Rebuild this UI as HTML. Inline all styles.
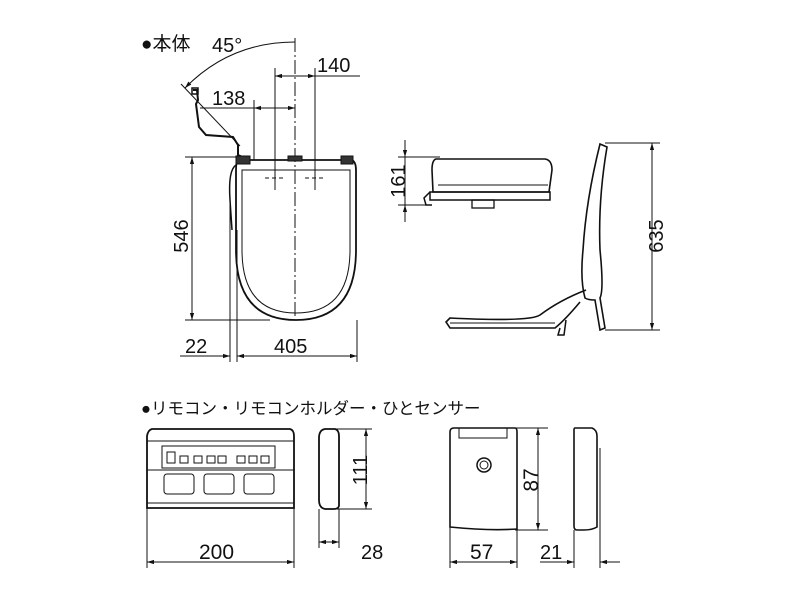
<!DOCTYPE html>
<html><head><meta charset="utf-8"><style>
html,body{margin:0;padding:0;background:#fff;}
svg{display:block;}
text{font-family:"Liberation Sans","Noto Sans CJK JP",sans-serif;fill:#111;}
</style></head><body>
<svg width="800" height="600" viewBox="0 0 800 600" xmlns="http://www.w3.org/2000/svg">
<defs>
<marker id="a" viewBox="0 0 10 10" refX="10" refY="5" markerWidth="7" markerHeight="7" orient="auto-start-reverse"><path d="M0,2 L10,5 L0,8 z" fill="#111"/></marker>
</defs>
<text x="141" y="50" font-size="19">●本体</text>
<text x="212" y="52" font-size="20">45°</text>
<text x="317" y="72" font-size="20">140</text>
<text x="212" y="105" font-size="20">138</text>
<text transform="translate(188,236) rotate(-90)" font-size="20" text-anchor="middle">546</text>
<text x="185" y="353" font-size="20">22</text>
<text x="274" y="353" font-size="20">405</text>
<text transform="translate(405,181) rotate(-90)" font-size="20" text-anchor="middle">161</text>
<text transform="translate(663,236) rotate(-90)" font-size="20" text-anchor="middle">635</text>

<g stroke="#111" fill="none" stroke-width="1">
<line x1="295" y1="38" x2="295" y2="318" stroke-dasharray="14,3,2,3"/>
<line x1="275" y1="68" x2="275" y2="190"/>
<line x1="315" y1="68" x2="315" y2="190"/>
<line x1="275" y1="76" x2="315" y2="76" marker-start="url(#a)" marker-end="url(#a)"/>
<line x1="315" y1="76" x2="360" y2="76"/>
<line x1="254" y1="100" x2="254" y2="160"/>
<line x1="200" y1="108" x2="254" y2="108"/>
<line x1="254" y1="108" x2="295" y2="108" marker-start="url(#a)" marker-end="url(#a)"/>
<path d="M295,42 Q230,42 185,88" marker-end="url(#a)"/>
<line x1="181" y1="84" x2="240" y2="146"/>
<path d="M193,90 L197,90 L198,100 L196,104 L199,127 L206,135 L233,137 L238,145 L238,155 L245,158" stroke-width="2"/>
<rect x="192" y="88" width="6" height="6" stroke-width="1.5"/>
<line x1="185" y1="157" x2="240" y2="157"/>
<line x1="185" y1="320" x2="270" y2="320"/>
<line x1="192" y1="157" x2="192" y2="320" marker-start="url(#a)" marker-end="url(#a)"/>
<path d="M238,160 L352,160 Q356,162 356,170 L356,250 Q356,320 296,320 Q236,320 236,250 L236,170 Q236,162 238,160 Z" stroke-width="1.8"/>
<path d="M242,170 L350,170 L350,250 Q350,313 296,313 Q242,313 242,250 Z" stroke-width="1"/>
<path d="M236,165 Q228,170 230,200 L232,230" stroke-width="1.5"/>
<rect x="236" y="156" width="14" height="8" fill="#333"/>
<rect x="341" y="156" width="12" height="8" fill="#333"/>
<rect x="288" y="156" width="14" height="5" fill="#333"/>
<line x1="265" y1="178" x2="285" y2="178" stroke-dasharray="4,3"/>
<line x1="305" y1="178" x2="325" y2="178" stroke-dasharray="4,3"/>
<line x1="230" y1="200" x2="230" y2="362"/>
<line x1="237" y1="230" x2="237" y2="362"/>
<line x1="357" y1="320" x2="357" y2="362"/>
<line x1="180" y1="356" x2="230" y2="356" marker-end="url(#a)"/>
<line x1="237" y1="356" x2="357" y2="356" marker-start="url(#a)" marker-end="url(#a)"/>
<line x1="398" y1="157" x2="440" y2="157"/>
<line x1="398" y1="205" x2="430" y2="205"/>
<line x1="405" y1="140" x2="405" y2="157" marker-end="url(#a)"/>
<line x1="405" y1="222" x2="405" y2="205" marker-end="url(#a)"/>
<line x1="405" y1="157" x2="405" y2="205"/>
<path d="M436,159 L545,159 Q552,160 552,170 L549,192 L433,192 L432,170 Q432,160 436,159 Z" stroke-width="1.6"/>
<path d="M438,185 L548,185" />
<rect x="430" y="192" width="120" height="8" stroke-width="1.5"/>
<path d="M430,192 L424,198 L426,205 L432,205" stroke-width="1.5"/>
<rect x="472" y="200" width="22" height="8" stroke-width="1.3"/>
<line x1="605" y1="143" x2="660" y2="143"/>
<line x1="605" y1="330" x2="660" y2="330"/>
<line x1="652" y1="143" x2="652" y2="330" marker-start="url(#a)" marker-end="url(#a)"/>
<path d="M600,144 L607,147 Q598,200 600,250 Q604,290 600,298 L605,328 L600,330 L595,300 Q588,300 585,298 Q580,280 583,250 Q586,200 600,144 Z" stroke-width="1.6"/>
<path d="M586,290 Q560,300 540,315 Q530,322 450,318 L446,322 L450,328 L555,328 Q565,320 580,302" stroke-width="1.6"/>
<line x1="450" y1="323" x2="555" y2="323"/>
<path d="M560,328 L558,335 L564,335 L566,320" stroke-width="1.5"/>
</g>

<text x="141" y="414" font-size="16.5">●リモコン・リモコンホルダー・ひとセンサー</text>
<text x="199" y="559" font-size="21">200</text>
<text x="361" y="559" font-size="20">28</text>
<text transform="translate(367,470) rotate(-90)" font-size="20" text-anchor="middle">111</text>
<text x="470" y="559" font-size="21">57</text>
<text x="540" y="559" font-size="20">21</text>
<text transform="translate(538,480) rotate(-90)" font-size="21" text-anchor="middle">87</text>

<g stroke="#111" fill="none" stroke-width="1">
<path d="M152,429 L290,429 Q294,430 294,436 L294,508 L147,508 L147,436 Q148,430 152,429 Z" stroke-width="1.8"/>
<line x1="147" y1="441" x2="294" y2="441"/>
<rect x="162" y="446" width="113" height="22"/>
<line x1="147" y1="470" x2="294" y2="470"/>
<line x1="147" y1="503" x2="294" y2="503"/>
<rect x="167" y="452" width="8" height="11"/>
<rect x="180" y="456" width="8" height="7"/><rect x="194" y="456" width="8" height="7"/><rect x="207" y="456" width="8" height="7"/><rect x="218" y="456" width="8" height="7"/><rect x="237" y="456" width="8" height="7"/><rect x="249" y="456" width="8" height="7"/><rect x="261" y="456" width="8" height="7"/>
<rect x="164" y="474" width="30" height="20" rx="3"/>
<rect x="204" y="474" width="30" height="20" rx="3"/>
<rect x="244" y="474" width="30" height="20" rx="3"/>
<line x1="147" y1="508" x2="147" y2="568"/>
<line x1="294" y1="508" x2="294" y2="568"/>
<line x1="147" y1="562" x2="294" y2="562" marker-start="url(#a)" marker-end="url(#a)"/>
<path d="M325,429 L335,429 Q339,430 339,436 L339,506 Q338,509 334,509 L325,509 Q319,508 319,500 L319,438 Q319,430 325,429 Z" stroke-width="1.8"/>
<line x1="330" y1="429" x2="372" y2="429"/>
<line x1="335" y1="509" x2="372" y2="509"/>
<line x1="366" y1="429" x2="366" y2="509" marker-start="url(#a)" marker-end="url(#a)"/>
<line x1="319" y1="509" x2="319" y2="548"/>
<line x1="339" y1="509" x2="339" y2="548"/>
<line x1="319" y1="542" x2="339" y2="542" marker-start="url(#a)" marker-end="url(#a)"/>
<path d="M454,428 L515,428 Q517,428 517,432 L517,529 Q490,531 450,527 L450,432 Q450,428 454,428 Z" stroke-width="1.6"/>
<rect x="459" y="428" width="48" height="10"/>
<circle cx="484" cy="465" r="7" stroke-width="1.5"/>
<circle cx="484" cy="465" r="4"/>
<line x1="515" y1="428" x2="548" y2="428"/>
<line x1="515" y1="530" x2="548" y2="530"/>
<line x1="538" y1="428" x2="538" y2="530" marker-start="url(#a)" marker-end="url(#a)"/>
<line x1="450" y1="527" x2="450" y2="568"/>
<line x1="517" y1="530" x2="517" y2="568"/>
<line x1="450" y1="562" x2="517" y2="562" marker-start="url(#a)" marker-end="url(#a)"/>
<path d="M575,428 L592,428 Q597,430 597,436 L597,527 Q592,530 584,530 L577,530 Q574,530 574,526 L574,430 Q574,428 575,428 Z" stroke-width="1.6"/>
<line x1="600" y1="448" x2="600" y2="520"/>
<line x1="574" y1="530" x2="574" y2="568"/>
<line x1="600" y1="520" x2="600" y2="568"/>
<line x1="540" y1="562" x2="574" y2="562" marker-end="url(#a)"/>
<line x1="620" y1="562" x2="600" y2="562" marker-end="url(#a)"/>
</g>
</svg>
</body></html>
